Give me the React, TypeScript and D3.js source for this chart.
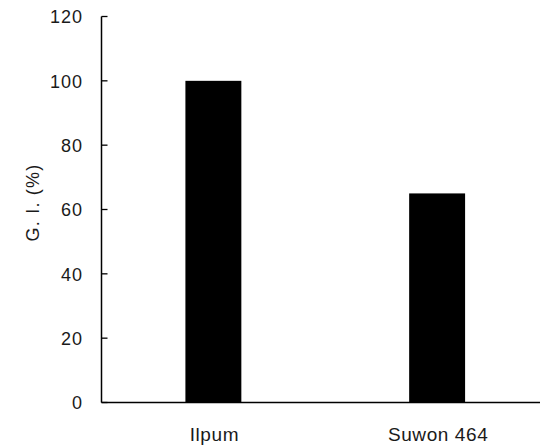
import React from "react";
import * as d3 from "d3";

const categories = ["Ilpum", "Suwon 464"];
const values = [100, 65];
const yTicks = [0, 20, 40, 60, 80, 100, 120];
const yLabel = "G. I. (%)";

const W = 542;
const H = 446;
const FONT = "'Liberation Sans', Arial, sans-serif";

export default function App() {
  const x0 = 101.5;
  const y = d3.scaleLinear().domain([0, 120]).range([402.5, 16.5]);
  const x = d3
    .scaleBand<string>()
    .domain(categories)
    .range([x0, 549])
    .paddingInner(0.75)
    .paddingOuter(0.375);

  return (
    <svg
      width={W}
      height={H}
      style={{ position: "absolute", left: 0, top: 0, background: "#fff" }}
    >
      {categories.map((c, i) => (
        <rect
          key={c}
          x={x(c)!}
          y={y(values[i])}
          width={x.bandwidth()}
          height={y(0) - y(values[i])}
          fill="#000"
        />
      ))}
      {/* y axis */}
      <line x1={x0} x2={x0} y1={y(120)} y2={y(0)} stroke="#000" strokeWidth={1.5} />
      {yTicks.map((t) => (
        <g key={t}>
          <line x1={x0} x2={x0 + 6} y1={y(t)} y2={y(t)} stroke="#000" strokeWidth={1.3} />
          <text
            x={83}
            y={y(t)}
            dy="0.38em"
            textAnchor="end"
            fontFamily={FONT}
            fontSize={18}
            letterSpacing={1}
            fill="#1a1a1a"
          >
            {t}
          </text>
        </g>
      ))}
      {/* x axis */}
      <line x1={x0} x2={540} y1={y(0)} y2={y(0)} stroke="#000" strokeWidth={1.5} />
      {categories.map((c) => (
        <text
          key={c}
          x={x(c)! + x.bandwidth() / 2 + 1}
          y={441}
          textAnchor="middle"
          fontFamily={FONT}
          fontSize={19}
          letterSpacing={0.6}
          fill="#1a1a1a"
        >
          {c}
        </text>
      ))}
      <text
        transform={`translate(38.5, 202.5) rotate(-90)`}
        textAnchor="middle"
        fontFamily={FONT}
        fontSize={18}
        letterSpacing={1.2}
        fill="#1a1a1a"
      >
        {yLabel}
      </text>
    </svg>
  );
}
